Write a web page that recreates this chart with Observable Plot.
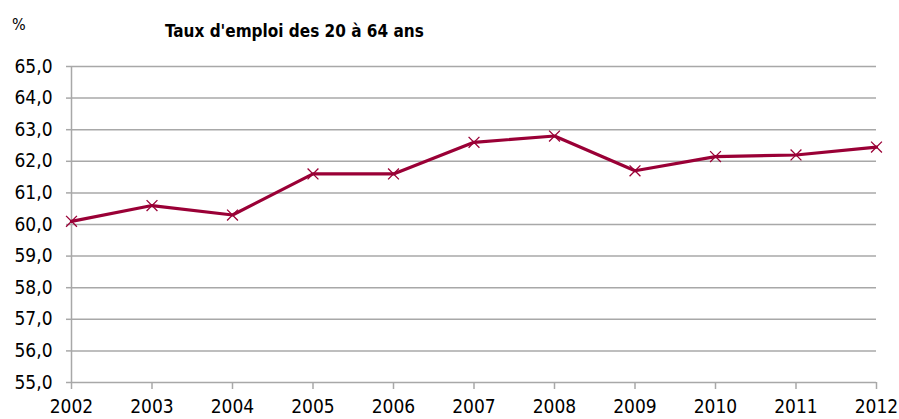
<!DOCTYPE html>
<html>
<head>
<meta charset="utf-8">
<script src="https://cdn.jsdelivr.net/npm/d3@7"></script>
<script src="https://cdn.jsdelivr.net/npm/@observablehq/plot@0.6"></script>
<style>
  html, body { margin: 0; padding: 0; background: #fff; }
  #wrap { position: relative; width: 899px; height: 419px; font-family: "Liberation Sans Narrow", "DejaVu Sans Condensed", "Liberation Sans", sans-serif; }
  #unit { position: absolute; left: 12px; top: 15px; font-size: 16px; color: #000; }
  #title { position: absolute; left: 165px; top: 21px; font-size: 17px; font-weight: bold; color: #000; }
  svg { position: absolute; left: 0; top: 0; }
</style>
</head>
<body>
<div id="wrap">
  <div id="unit">%</div>
  <div id="title">Taux d'emploi des 20 à 64 ans</div>
</div>
<script>
const years = [2002, 2003, 2004, 2005, 2006, 2007, 2008, 2009, 2010, 2011, 2012];
const rates = [60.1, 60.6, 60.3, 61.6, 61.6, 62.6, 62.8, 61.7, 62.15, 62.2, 62.45];
const yTicks = [55, 56, 57, 58, 59, 60, 61, 62, 63, 64, 65];
const unitLabel = "%";
const titleText = "Taux d'emploi des 20 à 64 ans";

const data = years.map((year, i) => ({year, rate: rates[i]}));
const color = "#9a0036";
const gridColor = "#a8a8a8";
const fmtY = d => d.toFixed(1).replace(".", ",");

const chart = Plot.plot({
  width: 899,
  height: 419,
  marginLeft: 71,
  marginRight: 23,
  marginTop: 66,
  marginBottom: 37,
  style: {fontFamily: "'Liberation Sans Narrow', 'DejaVu Sans Condensed', sans-serif", fontSize: "19px", color: "#000", background: "#fff"},
  x: {domain: [2002, 2012], ticks: years, tickFormat: d => String(d)},
  y: {domain: [55, 65], ticks: yTicks, tickFormat: fmtY},
  marks: [
    Plot.gridY(yTicks, {stroke: gridColor, strokeOpacity: 1, strokeWidth: 1.5}),
    Plot.ruleX([2002], {stroke: gridColor, strokeWidth: 1.5}),
    Plot.axisY(yTicks, {tickSize: 5, tickPadding: 14, stroke: gridColor, strokeWidth: 1.5, fill: "#000", tickFormat: fmtY, label: null, fontSize: 19}),
    Plot.axisX(years, {tickSize: 7, tickPadding: 10, stroke: gridColor, strokeWidth: 1.5, fill: "#000", tickFormat: d => String(d), label: null, fontSize: 19}),
    Plot.line(data, {x: "year", y: "rate", stroke: color, strokeWidth: 3.2}),
    Plot.dot(data, {x: "year", y: "rate", symbol: "times", r: 5, stroke: color, strokeWidth: 1.3})
  ]
});
document.getElementById("wrap").prepend(chart);
document.getElementById("unit").textContent = unitLabel;
document.getElementById("title").textContent = titleText;
</script>
</body>
</html>
